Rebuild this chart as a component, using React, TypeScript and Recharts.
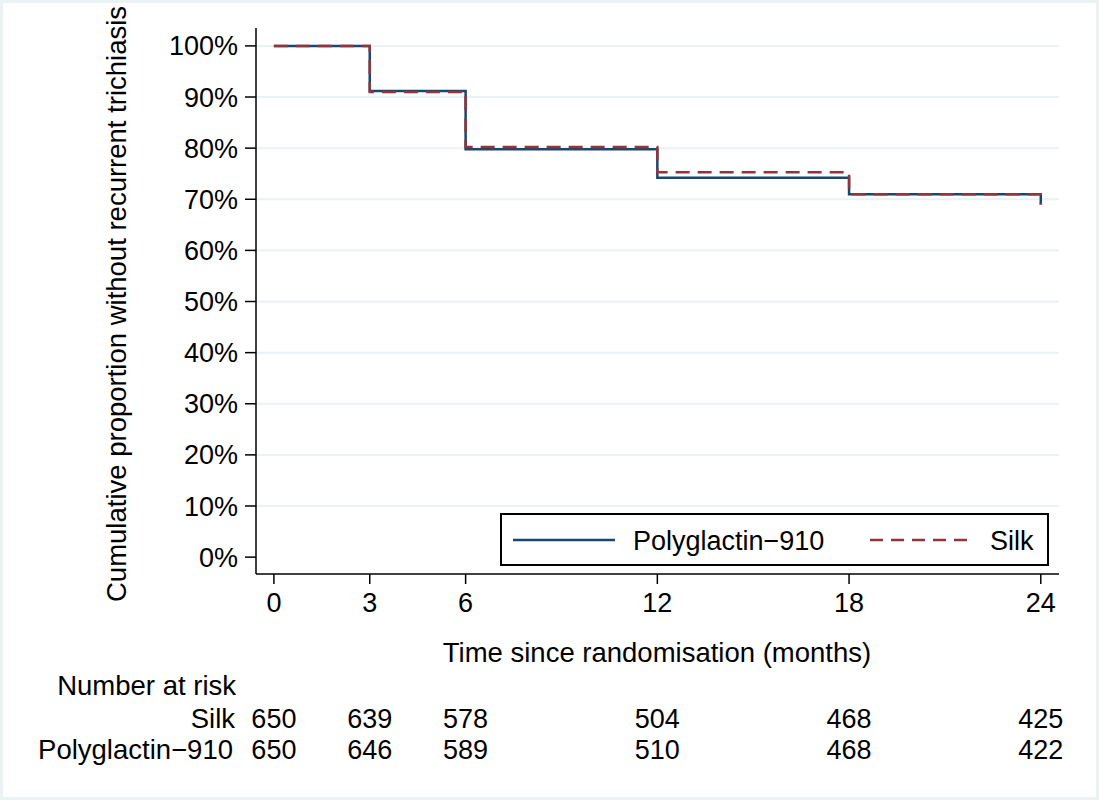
import React from 'react';
import { LineChart, Line, XAxis, YAxis, CartesianGrid, Legend } from 'recharts';

// Kaplan-Meier step values (percent without recurrence)
const months = [0, 3, 6, 12, 18, 24];
const polyglactin = [100, 91.2, 79.8, 74.2, 71.0, 69.0];
const silk = [100, 91.0, 80.2, 75.3, 71.0, 69.0];

// number at risk table
const silkAtRisk = [650, 639, 578, 504, 468, 425];
const polyAtRisk = [650, 646, 589, 510, 468, 422];

const yTicks = [0, 10, 20, 30, 40, 50, 60, 70, 80, 90, 100];

const BLUE = '#1a476f';
const RED = '#90353b';
const GRID = '#eaf2f3';
const FONT = '"Liberation Sans", Arial, Helvetica, sans-serif';

const data = months.map((m, i) => ({
  month: m,
  polyglactin: polyglactin[i],
  silk: silk[i],
}));

const MonthTick = (props: any) => {
  const { x, y, payload } = props;
  const i = months.indexOf(payload.value);
  return (
    <g fontFamily={FONT} fontSize={27} fill="#000">
      <text x={x} y={y} dy="0.71em" textAnchor="middle">
        {payload.value}
      </text>
      <text x={x} y={728} textAnchor="middle">
        {silkAtRisk[i]}
      </text>
      <text x={x} y={759} textAnchor="middle">
        {polyAtRisk[i]}
      </text>
    </g>
  );
};

const LegendBox = () => (
  <div
    style={{
      width: 549,
      height: 53,
      boxSizing: 'border-box',
      border: '2px solid #000',
      background: '#fff',
      position: 'relative',
    }}
  >
    <svg width={545} height={49} style={{ position: 'absolute', left: 0, top: 0 }}>
      <line x1={11} x2={113} y1={25} y2={25} stroke={BLUE} strokeWidth={2.5} />
      <text x={131} y={35} fontFamily={FONT} fontSize={27} fill="#000">
        Polyglactin−910
      </text>
      <line x1={368} x2={473} y1={25} y2={25} stroke={RED} strokeWidth={2.5} strokeDasharray="13 8" />
      <text x={488} y={35} fontFamily={FONT} fontSize={27} fill="#000">
        Silk
      </text>
    </svg>
  </div>
);

const App: React.FC = () => {
  return (
    <div
      style={{
        position: 'absolute',
        left: 0,
        top: 0,
        width: 1099,
        height: 800,
        background: '#fff',
        overflow: 'hidden',
        outline: `3px solid ${GRID}`,
        outlineOffset: -3,
      }}
    >
      <LineChart
        width={1099}
        height={800}
        data={data}
        margin={{ top: 28, right: 40, left: 196, bottom: 196 }}
      >
        <CartesianGrid
          vertical={false}
          stroke={GRID}
          strokeWidth={2}
          horizontalValues={[10, 20, 30, 40, 50, 60, 70, 80, 90, 100]}
        />
        <XAxis
          dataKey="month"
          type="number"
          domain={[-0.56, 24.57]}
          ticks={months}
          interval={0}
          allowDataOverflow
          height={30}
          stroke="#000"
          strokeWidth={1.5}
          tickSize={10}
          tickMargin={9}
          tick={<MonthTick />}
        />
        <YAxis
          type="number"
          domain={[-3.3, 103.5]}
          ticks={yTicks}
          interval={0}
          allowDataOverflow
          width={60}
          stroke="#000"
          strokeWidth={1.5}
          tickSize={11}
          tickMargin={7}
          tickFormatter={(v) => `${v}%`}
          tick={{ fill: '#000', fontSize: 27, fontFamily: FONT }}
        />
        <Legend
          layout="horizontal"
          verticalAlign="middle"
          align="center"
          content={<LegendBox />}
          wrapperStyle={{ position: 'absolute', left: 500, top: 513, width: 549, height: 53 }}
        />
        <Line
          type="stepAfter"
          dataKey="polyglactin"
          name="Polyglactin−910"
          stroke={BLUE}
          strokeWidth={2.5}
          dot={false}
          isAnimationActive={false}
        />
        <Line
          type="stepAfter"
          dataKey="silk"
          name="Silk"
          stroke={RED}
          strokeWidth={2.5}
          strokeDasharray="14 8"
          dot={false}
          isAnimationActive={false}
        />
      </LineChart>
      <svg
        width={1099}
        height={800}
        style={{ position: 'absolute', left: 0, top: 0, pointerEvents: 'none' }}
        fontFamily={FONT}
        fill="#000"
      >
        <text transform="translate(126,602) rotate(-90)" fontSize={27.5} textAnchor="start">
          Cumulative proportion without recurrent trichiasis
        </text>
        <text x={657} y={662} fontSize={27.5} textAnchor="middle">
          Time since randomisation (months)
        </text>
        <text x={236} y={695} fontSize={27.5} textAnchor="end">
          Number at risk
        </text>
        <text x={235} y={728} fontSize={27.5} textAnchor="end">
          Silk
        </text>
        <text x={233} y={759} fontSize={27.5} textAnchor="end">
          Polyglactin−910
        </text>
      </svg>
    </div>
  );
};

export default App;
